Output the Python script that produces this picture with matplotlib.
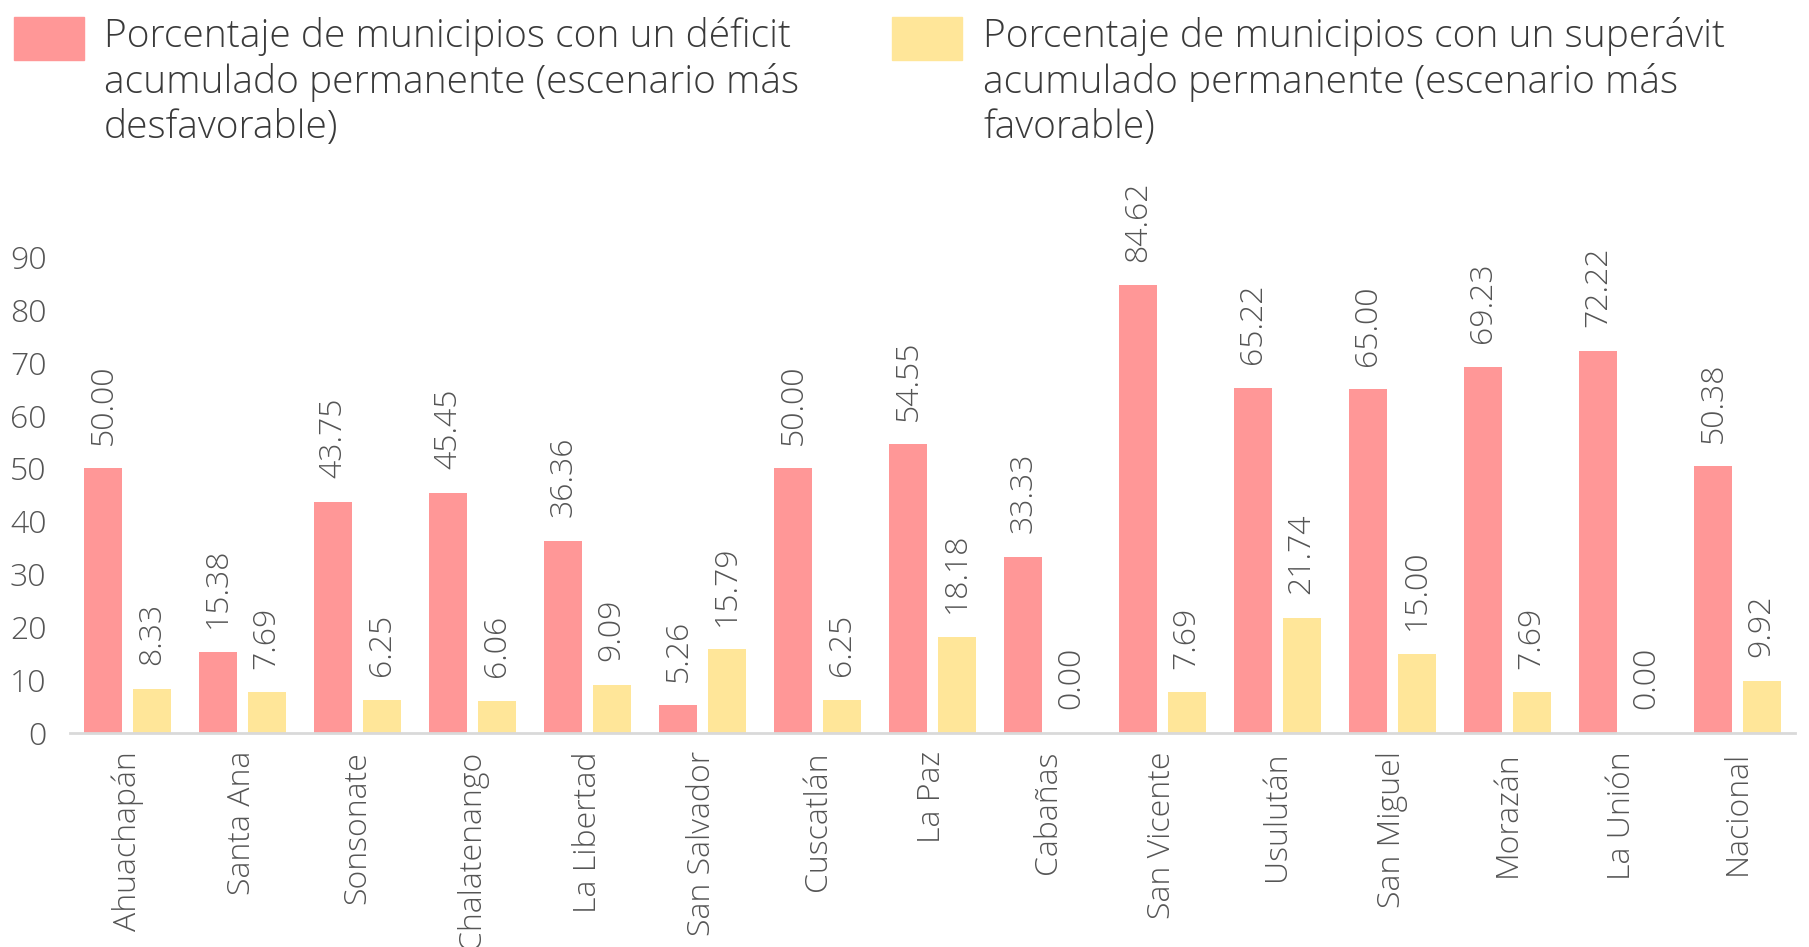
import numpy as np
import matplotlib
matplotlib.use("Agg")
import matplotlib.pyplot as plt
from matplotlib.patches import Rectangle

departamentos = ["Ahuachapán", "Santa Ana", "Sonsonate", "Chalatenango", "La Libertad",
                 "San Salvador", "Cuscatlán", "La Paz", "Cabañas", "San Vicente",
                 "Usulután", "San Miguel", "Morazán", "La Unión", "Nacional"]
deficit = [50.00, 15.38, 43.75, 45.45, 36.36, 5.26, 50.00, 54.55, 33.33, 84.62,
           65.22, 65.00, 69.23, 72.22, 50.38]
superavit = [8.33, 7.69, 6.25, 6.06, 9.09, 15.79, 6.25, 18.18, 0.00, 7.69,
             21.74, 15.00, 7.69, 0.00, 9.92]
leg_deficit = "Porcentaje de municipios con un déficit\nacumulado permanente (escenario más\ndesfavorable)"
leg_superavit = "Porcentaje de municipios con un superávit\nacumulado permanente (escenario más\nfavorable)"

c_red = "#FF9797"
c_yel = "#FFE699"
c_txt = "#555555"
font = "Open Sans"
peso = "light"
fs = 23

W, H = 1809, 947
fig = plt.figure(figsize=(W / 100, H / 100), dpi=100)
ax = fig.add_axes([70 / W, 1 - 733 / H, 1725 / W, 529 / H])

x = np.arange(len(departamentos))
w = 0.33
off = 0.21
b1 = ax.bar(x - off, deficit, w, color=c_red)
b2 = ax.bar(x + off, superavit, w, color=c_yel)

for bars, vals in ((b1, deficit), (b2, superavit)):
    for r, v in zip(bars, vals):
        ax.annotate("%.2f" % v, (r.get_x() + r.get_width() / 2, v), xytext=(0, 17),
                    textcoords="offset points", rotation=90, ha="center", va="bottom",
                    fontsize=fs, color=c_txt, family=font, fontweight=peso)

ax.set_xlim(-0.5, len(departamentos) - 0.5)
ax.set_ylim(0, 100)
ax.set_yticks(range(0, 100, 10))
ax.set_xticks(x)
ax.set_xticklabels(departamentos, rotation=90, va="top", ha="center")
for lab in ax.get_xticklabels() + ax.get_yticklabels():
    lab.set_fontsize(fs)
    lab.set_color(c_txt)
    lab.set_family(font)
    lab.set_fontweight(peso)
ax.tick_params(axis="y", length=0, pad=17)
ax.tick_params(axis="x", length=0, pad=13)
for s in ("top", "right", "left"):
    ax.spines[s].set_visible(False)
ax.spines["bottom"].set_color("#D9D9D9")
ax.spines["bottom"].set_linewidth(2)

# leyenda
for (px, tx, col, txt) in ((14, 104, c_red, leg_deficit), (892, 983, c_yel, leg_superavit)):
    fig.patches.append(Rectangle((px / W, 1 - 60 / H), 70 / W, 43 / H,
                                 transform=fig.transFigure, color=col))
    fig.text(tx / W, 1 - 17 / H, txt, ha="left", va="top", fontsize=28,
             color="#3A3A3A", family=font, fontweight=peso, linespacing=1.22)

fig.savefig("out.png", dpi=100)
